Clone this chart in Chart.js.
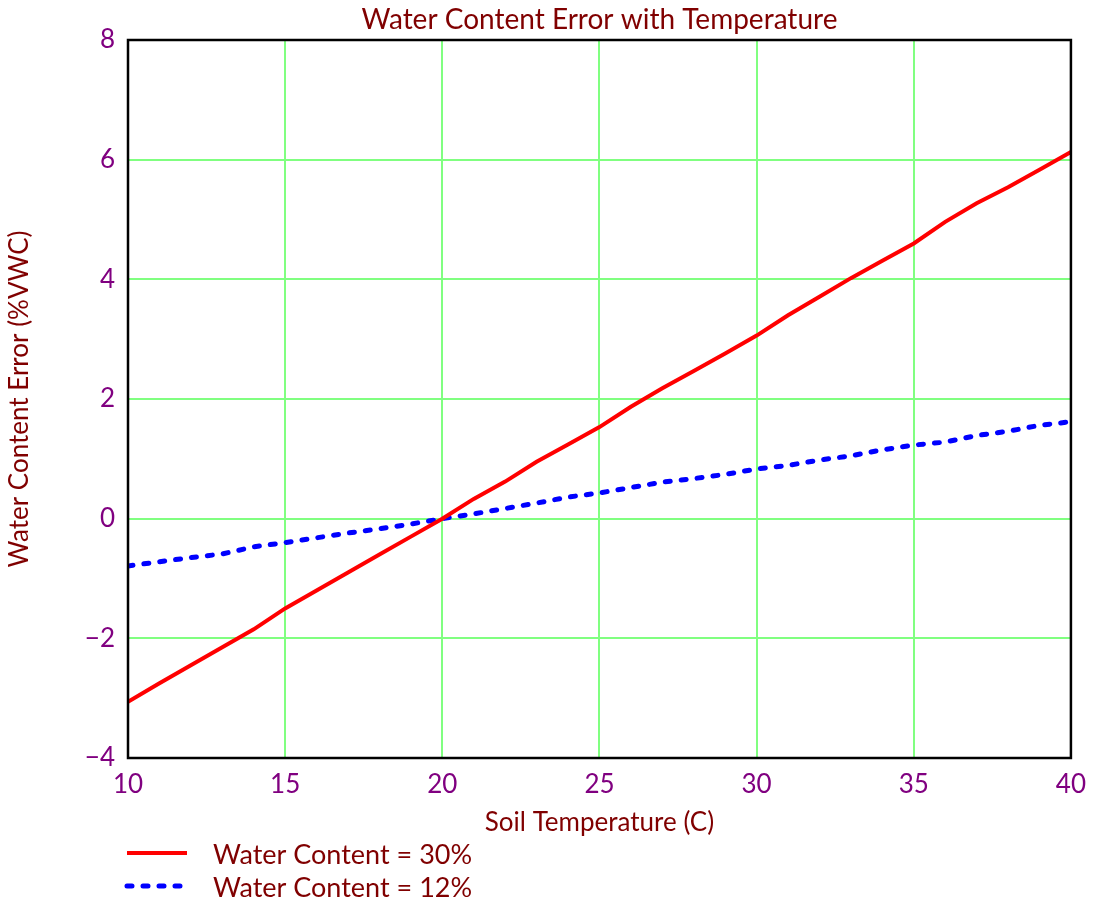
<!DOCTYPE html>
<html>
<head>
<meta charset="utf-8">
<script src="https://cdn.jsdelivr.net/npm/chart.js@4/dist/chart.umd.min.js"></script>
<style>
  html, body { margin: 0; padding: 0; background: #fff; }
  #wrap { width: 1097px; height: 903px; }
</style>
</head>
<body>
<div id="wrap"><canvas id="errChart"></canvas></div>
<script>
// Soil temperature (C)
const temps = [10, 11, 12, 13, 14, 15, 16, 17, 18, 19, 20, 21, 22, 23, 24, 25, 26, 27, 28, 29, 30, 31, 32, 33, 34, 35, 36, 37, 38, 39, 40];
// Water content error (%VWC) at 30% water content
const err30 = [-3.06, -2.75, -2.45, -2.15, -1.85, -1.50, -1.20, -0.90, -0.60, -0.30, 0.00, 0.33, 0.62, 0.95, 1.24, 1.53, 1.87, 2.18, 2.47, 2.76, 3.06, 3.40, 3.71, 4.02, 4.31, 4.60, 4.96, 5.27, 5.54, 5.83, 6.13];
// Water content error (%VWC) at 12% water content
const err12 = [-0.79, -0.72, -0.65, -0.59, -0.47, -0.40, -0.32, -0.24, -0.17, -0.09, 0.00, 0.08, 0.17, 0.26, 0.36, 0.43, 0.52, 0.61, 0.67, 0.74, 0.83, 0.89, 0.98, 1.05, 1.15, 1.23, 1.28, 1.39, 1.46, 1.56, 1.62];
const seriesNames = ['Water Content = 30%', 'Water Content = 12%'];
const xTicks = [10, 15, 20, 25, 30, 35, 40];
const yTicks = [-4, -2, 0, 2, 4, 6, 8];
const chartTitle = 'Water Content Error with Temperature';

const FONT = "'Comic Sans MS', Lato, 'DejaVu Sans', sans-serif";
const darkRed = '#800000';
const purple = '#800080';

// frame around the plot area, title centred over it
const framePlugin = {
    id: 'frame',
    afterDatasetsDraw(chart) {
        const a = chart.chartArea;
        const ctx = chart.ctx;
        ctx.save();
        ctx.strokeStyle = '#000';
        ctx.lineWidth = 2.5;
        ctx.strokeRect(a.left, a.top, a.right - a.left, a.bottom - a.top);
        ctx.fillStyle = darkRed;
        ctx.font = '28px ' + FONT;
        ctx.textAlign = 'center';
        ctx.textBaseline = 'middle';
        ctx.fillText(chartTitle, (a.left + a.right) / 2, 20);
        ctx.restore();
    }
};

// legend stacked below the x axis title
const stackedLegend = {
    id: 'stackedLegend',
    afterDraw(chart) {
        const ctx = chart.ctx;
        const x0 = chart.chartArea.left - 3;
        const rows = [855, 888];
        ctx.save();
        chart.data.datasets.forEach((ds, i) => {
            const y = rows[i];
            ctx.strokeStyle = ds.borderColor;
            ctx.lineWidth = ds.borderWidth;
            ctx.lineCap = ds.borderCapStyle || 'butt';
            ctx.setLineDash(ds.borderDash || []);
            ctx.beginPath();
            ctx.moveTo(x0 + 2, y - 2);
            ctx.lineTo(x0 + 62, y - 2);
            ctx.stroke();
            ctx.setLineDash([]);
            ctx.fillStyle = darkRed;
            ctx.font = '27px ' + FONT;
            ctx.textBaseline = 'middle';
            ctx.textAlign = 'left';
            ctx.fillText(ds.label, x0 + 88, y);
        });
        ctx.restore();
    }
};

const ctx = document.getElementById('errChart').getContext('2d');
new Chart(ctx, {
    type: 'line',
    data: {
        datasets: [{
            label: seriesNames[0],
            data: temps.map((t, i) => ({ x: t, y: err30[i] })),
            borderColor: '#ff0000',
            borderWidth: 4,
            pointRadius: 0,
            tension: 0
        }, {
            label: seriesNames[1],
            data: temps.map((t, i) => ({ x: t, y: err12[i] })),
            borderColor: '#0000ff',
            borderWidth: 5,
            borderDash: [5, 11],
            borderCapStyle: 'round',
            pointRadius: 0,
            tension: 0
        }]
    },
    options: {
        responsive: true,
        maintainAspectRatio: false,
        animation: false,
        layout: { padding: { left: 0, right: 24, top: 40, bottom: 65 } },
        plugins: {
            legend: { display: false },
            tooltip: { enabled: false },
            title: { display: false }
        },
        scales: {
            x: {
                type: 'linear',
                min: 10,
                max: 40,
                afterBuildTicks: (s) => { s.ticks = xTicks.map(v => ({ value: v })); },
                afterFit: (s) => { s.height = 80; },
                grid: { color: '#80ff80', lineWidth: 2, drawTicks: false },
                border: { display: false },
                ticks: {
                    color: purple,
                    padding: 11,
                    font: { family: FONT, size: 26 }
                },
                title: {
                    display: true,
                    text: 'Soil Temperature (C)',
                    color: darkRed,
                    font: { family: FONT, size: 26 },
                    padding: { top: 0, bottom: 0 }
                }
            },
            y: {
                min: -4,
                max: 8,
                afterBuildTicks: (s) => { s.ticks = yTicks.map(v => ({ value: v })); },
                afterFit: (s) => { s.width = 128; },
                grid: { color: '#80ff80', lineWidth: 2, drawTicks: false },
                border: { display: false },
                ticks: {
                    color: purple,
                    padding: 13,
                    font: { family: FONT, size: 26 },
                    callback: (v) => String(v).replace('-', '\u2212')
                },
                title: {
                    display: true,
                    text: 'Water Content Error (%VWC)',
                    color: darkRed,
                    font: { family: FONT, size: 26 },
                    padding: { top: 4.4, bottom: 0 }
                }
            }
        }
    },
    plugins: [framePlugin, stackedLegend]
});
</script>
</body>
</html>
